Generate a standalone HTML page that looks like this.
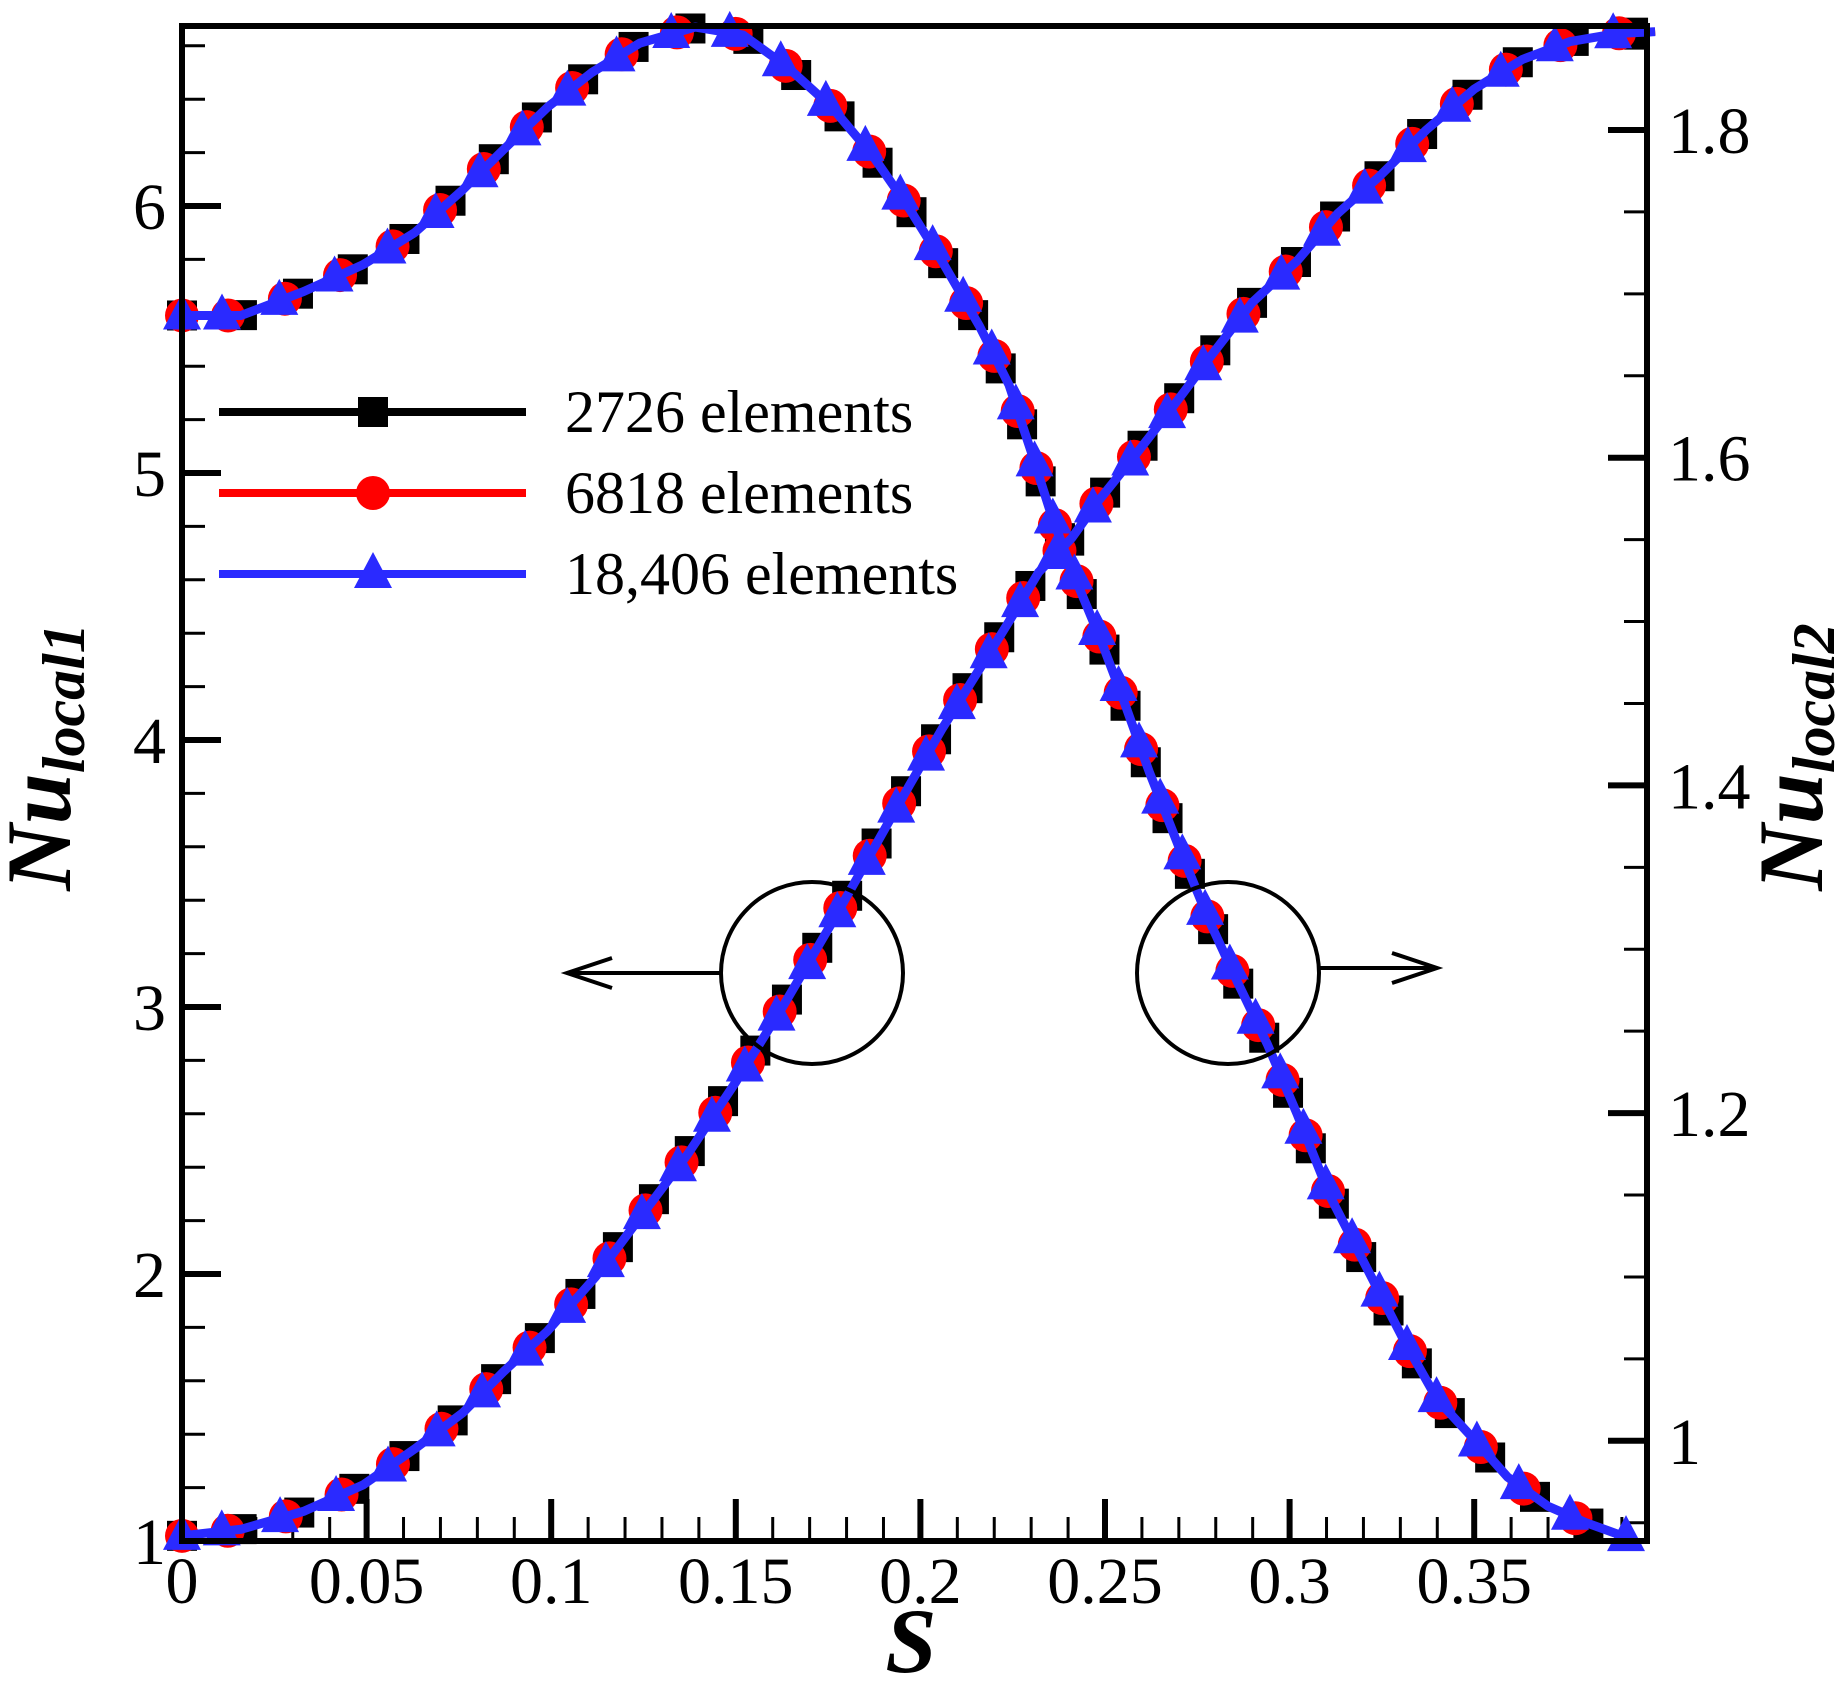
<!DOCTYPE html>
<html><head><meta charset="utf-8"><style>
html,body{margin:0;padding:0;background:#fff}
svg{display:block}
text{font-family:"Liberation Serif",serif;fill:#000}
</style></head><body>
<svg id="chart" width="1845" height="1682" viewBox="0 0 1845 1682" xmlns="http://www.w3.org/2000/svg">
<defs><clipPath id="plotclip"><rect x="150" y="0" width="1520" height="1570"/></clipPath></defs>
<g id="ticks"></g>
<g id="series" clip-path="url(#plotclip)"></g>
<rect x="182" y="26" width="1465" height="1515" fill="none" stroke="#000" stroke-width="6"/>
<g id="labels"></g>
<text transform="translate(70,757) rotate(-90)" text-anchor="middle" font-size="92" font-weight="bold" font-style="italic">Nu<tspan font-size="60" dy="14">local1</tspan></text>
<text transform="translate(1822,757) rotate(-90)" text-anchor="middle" font-size="92" font-weight="bold" font-style="italic">Nu<tspan font-size="60" dy="12">local2</tspan></text>
<text x="911" y="1672" text-anchor="middle" font-size="92" font-weight="bold" font-style="italic">S</text>
<g fill="none" stroke="#000" stroke-width="4">
<circle cx="812" cy="973" r="91"/>
<line x1="721" y1="973" x2="567" y2="973"/>
<polyline points="612,958 567,973 612,988"/>
</g>
<g fill="none" stroke="#000" stroke-width="4">
<circle cx="1228" cy="973" r="91"/>
<line x1="1319" y1="968" x2="1437" y2="968"/>
<polyline points="1392,953 1437,968 1392,983"/>
</g>
<g id="legend"></g>
</svg>
<script>
const sA = [0,0.016,0.033,0.049,0.063,0.076,0.087,0.099,0.111,0.124,0.139,0.152,0.164,0.176,0.187,0.197,0.206,0.216,0.224,0.230,0.236,0.243,0.249,0.255,0.262,0.270,0.278,0.286,0.294,0.302,0.311,0.321,0.331,0.340,0.350,0.359,0.370,0.380,0.392];
const nuLocal1 = [5.59,5.59,5.68,5.78,5.9,6.06,6.21,6.37,6.5,6.61,6.67,6.64,6.52,6.37,6.19,5.99,5.79,5.55,5.33,5.08,4.82,4.57,4.37,4.15,3.88,3.6,3.33,3.09,2.86,2.6,2.29,2.02,1.75,1.53,1.38,1.24,1.13,1.07,1.01];
const sB = [0,0.016,0.033,0.049,0.063,0.076,0.087,0.099,0.112,0.124,0.137,0.150,0.163,0.176,0.187,0.197,0.206,0.216,0.224,0.232,0.241,0.248,0.258,0.268,0.279,0.290,0.302,0.313,0.324,0.337,0.350,0.363,0.376,0.389,0.399];
const nuLocal2 = [0.942,0.946,0.957,0.973,0.995,1.017,1.042,1.067,1.1,1.136,1.175,1.219,1.266,1.316,1.36,1.4,1.435,1.471,1.5,1.53,1.551,1.573,1.601,1.63,1.663,1.695,1.72,1.749,1.771,1.8,1.825,1.843,1.854,1.859,1.86];
const seriesNames = ["2726 elements","6818 elements","18,406 elements"];
const seriesColors = ["#000000","#ff0000","#2a2aff"];
const xTickLabels = ["0","0.05","0.1","0.15","0.2","0.25","0.3","0.35"];
const yLeftTickLabels = ["1","2","3","4","5","6"];
const yRightTickLabels = ["1","1.2","1.4","1.6","1.8"];

const NS="http://www.w3.org/2000/svg";
const XMAX=0.3968;
const X = s => 182 + s*3692;
const YL = v => 1541 - (v-1)*267;
const YR = v => 130 + (1.8-v)*1638.5;
function mk(tag, attrs, parent){const e=document.createElementNS(NS,tag);for(const k in attrs)e.setAttribute(k,attrs[k]);parent.appendChild(e);return e;}
const ticks=document.getElementById('ticks'), labels=document.getElementById('labels'), series=document.getElementById('series'), legend=document.getElementById('legend');

for(let i=0;i<=39;i++){const s=i*0.01;const x=X(s);const major=i%5===0;
 const t=mk('line',{x1:x,y1:1541,x2:x,y2:1541-(major?42:24),stroke:'#000','stroke-width':major?6:3},ticks);
 
 }
xTickLabels.forEach(l=>{const e=mk('text',{x:X(parseFloat(l)),y:1603,'text-anchor':'middle','font-size':66},labels);e.textContent=l;
 
 });
for(let i=0;i<=28;i++){const v=1+i*0.2;if(v>6.68)break;const y=YL(v);const major=i%5===0;
 const t=mk('line',{x1:182,y1:y,x2:182+(major?39:23),y2:y,stroke:'#000','stroke-width':major?6:3},ticks);
 
 }
yLeftTickLabels.forEach(l=>{const e=mk('text',{x:166,y:YL(parseFloat(l))+23,'text-anchor':'end','font-size':66},labels);e.textContent=l;
 
 });
for(let i=0;i<=20;i++){const v=0.95+i*0.05;if(v>1.863)break;const y=YR(v);const major=(i%4===1);
 const t=mk('line',{x1:1647,y1:y,x2:1647-(major?39:23),y2:y,stroke:'#000','stroke-width':major?6:3},ticks);
 
 }
yRightTickLabels.forEach(l=>{const e=mk('text',{x:1668,y:YR(parseFloat(l))+23,'text-anchor':'start','font-size':66},labels);e.textContent=l;
 
 });

function marker(k,x,y,parent){let e;
 if(k===0){e=mk('rect',{x:x-15,y:y-15,width:30,height:30,fill:seriesColors[0]},parent);}
 else if(k===1){e=mk('circle',{cx:x,cy:y,r:17,fill:seriesColors[1]},parent);}
 else{e=mk('polygon',{points:`${x},${y-22} ${x-19},${y+14} ${x+19},${y+14}`,fill:seriesColors[2]},parent);}
 return e;}
function screenPts(sArr,vArr,Y){const p=[];for(let i=0;i<sArr.length;i++){p.push([X(sArr[i]),Y(vArr[i])]);}return p;}
function placeMarkers(pts,spacing,start,k,g,name){
 const m0=marker(k,pts[0][0],pts[0][1],g);
 
 
 let acc=spacing-start;
 for(let i=1;i<pts.length;i++){const [x0,y0]=pts[i-1],[x1,y1]=pts[i];const d=Math.hypot(x1-x0,y1-y0);
  let pos=spacing-acc;
  while(pos<=d){const f=pos/d;const mx=x0+f*(x1-x0),my=y0+f*(y1-y0);
   if(mx<=X(XMAX)+2){const m=marker(k,mx,my,g);
    
    }
   pos+=spacing;}
  acc=d-(pos-spacing);}
}
const lineW=[8,8,9];
const startOff=[60,46,40];
[0,1,2].forEach(k=>{
 const g=mk('g',{},series);
 
 
 const pA=screenPts(sA,nuLocal1,YL), pB=screenPts(sB,nuLocal2,YR);
 const p1=mk('polyline',{points:pA.map(p=>p.join(',')).join(' '),fill:'none',stroke:seriesColors[k],'stroke-width':lineW[k],'stroke-linejoin':'round'},g);
 
 
 const p2=mk('polyline',{points:pB.map(p=>p.join(',')).join(' '),fill:'none',stroke:seriesColors[k],'stroke-width':lineW[k],'stroke-linejoin':'round'},g);
 
 
 placeMarkers(pA,60,startOff[k],k,g,'nu-local1-marker');
 placeMarkers(pB,60,startOff[k],k,g,'nu-local2-marker');
});

const legY=[412,493,574];
[0,1,2].forEach(k=>{
 const g=mk('g',{},legend);
 
 
 mk('line',{x1:219,y1:legY[k],x2:526,y2:legY[k],stroke:seriesColors[k],'stroke-width':8},g);
 marker(k,373,legY[k],g);
 const t=mk('text',{x:565,y:legY[k]+20,'font-size':60},g);t.textContent=seriesNames[k];
});
</script>
</body></html>
